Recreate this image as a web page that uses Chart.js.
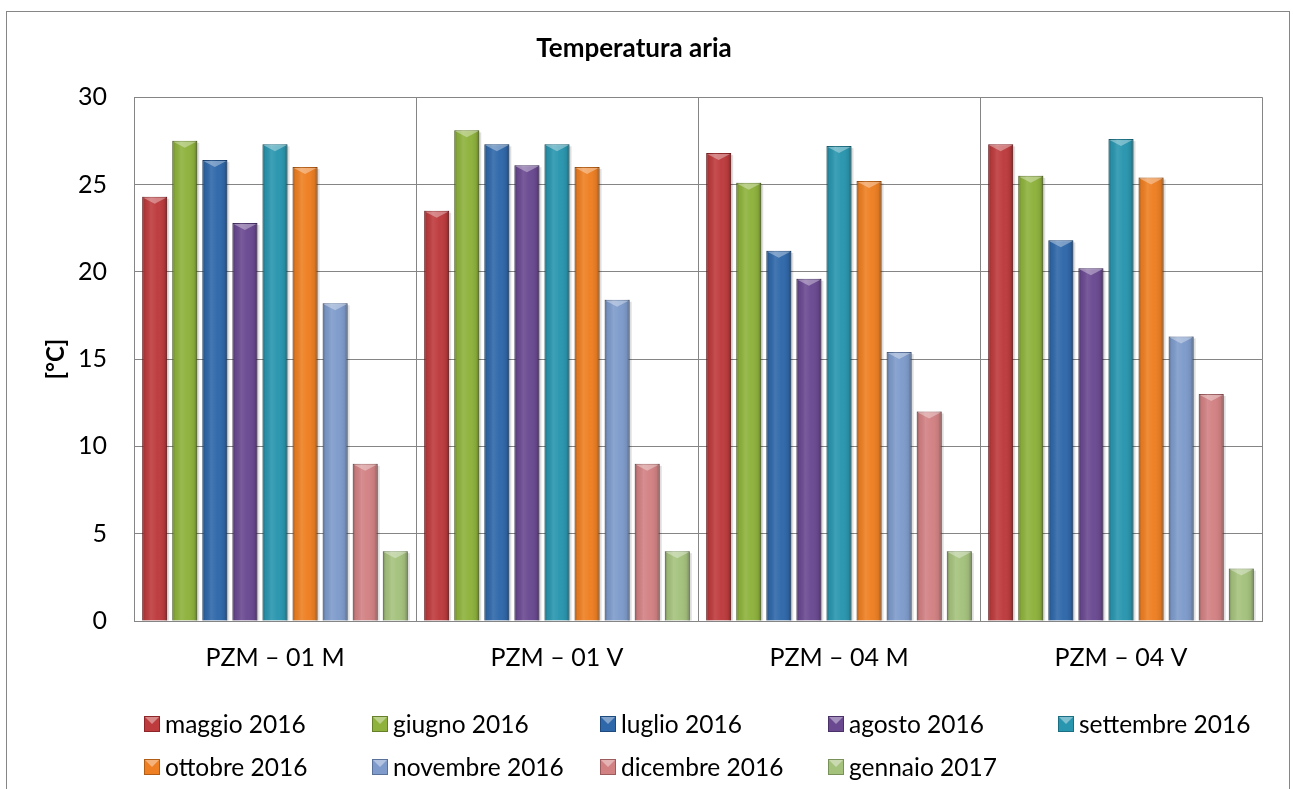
<!DOCTYPE html>
<html>
<head>
<meta charset="utf-8">
<script src="https://cdn.jsdelivr.net/npm/chart.js@4"></script>
<style>
  html, body { margin: 0; padding: 0; background: #fff; }
  #wrap { width: 1293px; height: 789px; }
</style>
</head>
<body>
<div id="wrap"><canvas id="chart" width="1293" height="789"></canvas></div>
<script>
const stations = ["PZM \u2013 01 M", "PZM \u2013 01 V", "PZM \u2013 04 M", "PZM \u2013 04 V"];
const months = [
  "maggio 2016", "giugno 2016", "luglio 2016", "agosto 2016", "settembre 2016",
  "ottobre 2016", "novembre 2016", "dicembre 2016", "gennaio 2017",
];
// one array per month, values per station
const maggio = [24.3, 23.5, 26.8, 27.3];
const giugno = [27.5, 28.1, 25.1, 25.5];
const luglio = [26.4, 27.3, 21.2, 21.8];
const agosto = [22.8, 26.1, 19.6, 20.2];
const settembre = [27.3, 27.3, 27.2, 27.6];
const ottobre = [26.0, 26.0, 25.2, 25.4];
const novembre = [18.2, 18.4, 15.4, 16.3];
const dicembre = [9.0, 9.0, 12.0, 13.0];
const gennaio = [4.0, 4.0, 4.0, 3.0];
const yTicks = [0, 5, 10, 15, 20, 25, 30];

const series = [maggio, giugno, luglio, agosto, settembre, ottobre, novembre, dicembre, gennaio];
const fills = ["#BE3B3D", "#8EB23C", "#2F68AA", "#6A4991", "#2996AF", "#EE7F22", "#7E9BCB", "#D28183", "#A5C27D"];
const edges = ["#8E2529", "#66802A", "#1F4A7E", "#4A3268", "#1C6E82", "#B25D15", "#5A719A", "#9C5C5E", "#789159"];

const FONT = "Lato, 'Open Sans', sans-serif";

// outer frame of the chart
const framePlugin = {
  id: "frame",
  beforeDraw(chart) {
    const ctx = chart.ctx;
    ctx.save();
    ctx.fillStyle = "#fff";
    ctx.fillRect(0, 0, chart.width, chart.height);
    ctx.strokeStyle = "#868686";
    ctx.lineWidth = 1;
    ctx.strokeRect(6.5, 11.5, 1283, 800);
    ctx.restore();
  },
};

// shadow before bars, bevel shading after
const bevelPlugin = {
  id: "bevel",
  beforeDatasetsDraw(chart) {
    const ctx = chart.ctx;
    ctx.save();
    ctx.fillStyle = "rgba(0,0,0,0.13)";
    chart.data.datasets.forEach((ds, i) => {
      chart.getDatasetMeta(i).data.forEach((bar) => {
        const l = bar.x - bar.width / 2;
        ctx.fillRect(l + 2, bar.y + 2, bar.width, bar.base - bar.y - 2);
      });
    });
    ctx.restore();
  },
  afterDatasetsDraw(chart) {
    const ctx = chart.ctx;
    ctx.save();
    chart.data.datasets.forEach((ds, i) => {
      chart.getDatasetMeta(i).data.forEach((bar) => {
        const l = bar.x - bar.width / 2;
        const r = bar.x + bar.width / 2;
        const g = ctx.createLinearGradient(l, 0, r, 0);
        g.addColorStop(0, "rgba(0,0,0,0.28)");
        g.addColorStop(0.12, "rgba(0,0,0,0.05)");
        g.addColorStop(0.35, "rgba(255,255,255,0.10)");
        g.addColorStop(0.6, "rgba(255,255,255,0.02)");
        g.addColorStop(0.88, "rgba(0,0,0,0.08)");
        g.addColorStop(1, "rgba(0,0,0,0.32)");
        ctx.fillStyle = g;
        ctx.fillRect(l, bar.y, bar.width, bar.base - bar.y);
        // top facet
        ctx.beginPath();
        ctx.moveTo(l + 1, bar.y + 1);
        ctx.lineTo(r - 1, bar.y + 1);
        ctx.lineTo(bar.x, bar.y + 7);
        ctx.closePath();
        ctx.fillStyle = "rgba(255,255,255,0.35)";
        ctx.fill();
      });
    });
    ctx.restore();
  },
};

// legend in fixed columns, like the spreadsheet one
const legendCols = [144, 372, 600, 828, 1058];
const legendPlugin = {
  id: "gridLegend",
  afterDraw(chart) {
    const ctx = chart.ctx;
    ctx.save();
    ctx.font = "24.5px " + FONT;
    ctx.textBaseline = "middle";
    chart.data.datasets.forEach((ds, i) => {
      const x = legendCols[i % 5];
      const y = 724 + Math.floor(i / 5) * 43;
      ctx.fillStyle = ds.backgroundColor;
      ctx.fillRect(x, y - 8, 16, 16);
      ctx.strokeStyle = ds.borderColor;
      ctx.lineWidth = 1;
      ctx.strokeRect(x + 0.5, y - 7.5, 15, 15);
      ctx.beginPath();
      ctx.moveTo(x + 1, y - 7);
      ctx.lineTo(x + 15, y - 7);
      ctx.lineTo(x + 8, y);
      ctx.closePath();
      ctx.fillStyle = "rgba(255,255,255,0.4)";
      ctx.fill();
      ctx.fillStyle = "#000";
      ctx.fillText(ds.label, x + 21, y + 1);
    });
    ctx.restore();
  },
};

new Chart(document.getElementById("chart"), {
  type: "bar",
  data: {
    labels: stations,
    datasets: months.map((m, i) => ({
      label: m,
      data: series[i],
      backgroundColor: fills[i],
      borderColor: edges[i],
      borderWidth: 1,
      categoryPercentage: 0.96,
      barPercentage: 0.83,
    })),
  },
  options: {
    responsive: false,
    animation: false,
    layout: { padding: { left: 6, right: 31, top: 11, bottom: 108 } },
    plugins: {
      legend: { display: false },
      tooltip: { enabled: false },
      title: {
        display: true,
        text: "Temperatura aria",
        color: "#000",
        font: { family: FONT, size: 26, weight: "bold" },
        padding: { top: 22, bottom: 33 },
      },
    },
    scales: {
      x: {
        grid: { color: "#858585", offset: true, drawTicks: false },
        border: { color: "#858585" },
        ticks: { color: "#000", font: { family: FONT, size: 25 }, padding: 22 },
        afterFit(s) { s.height = 60; },
      },
      y: {
        min: 0,
        max: 30,
        afterBuildTicks(s) { s.ticks = yTicks.map((v) => ({ value: v })); },
        grid: { color: "#858585", drawTicks: false },
        border: { color: "#858585" },
        ticks: { color: "#000", font: { family: FONT, size: 25 }, padding: 27 },
        title: {
          display: true,
          text: "[\u00b0C]",
          color: "#000",
          font: { family: FONT, size: 24, weight: "bold" },
          padding: { top: 36, bottom: 0 },
        },
        afterFit(s) { s.width = 128; },
      },
    },
  },
  plugins: [framePlugin, bevelPlugin, legendPlugin],
});
</script>
</body>
</html>
